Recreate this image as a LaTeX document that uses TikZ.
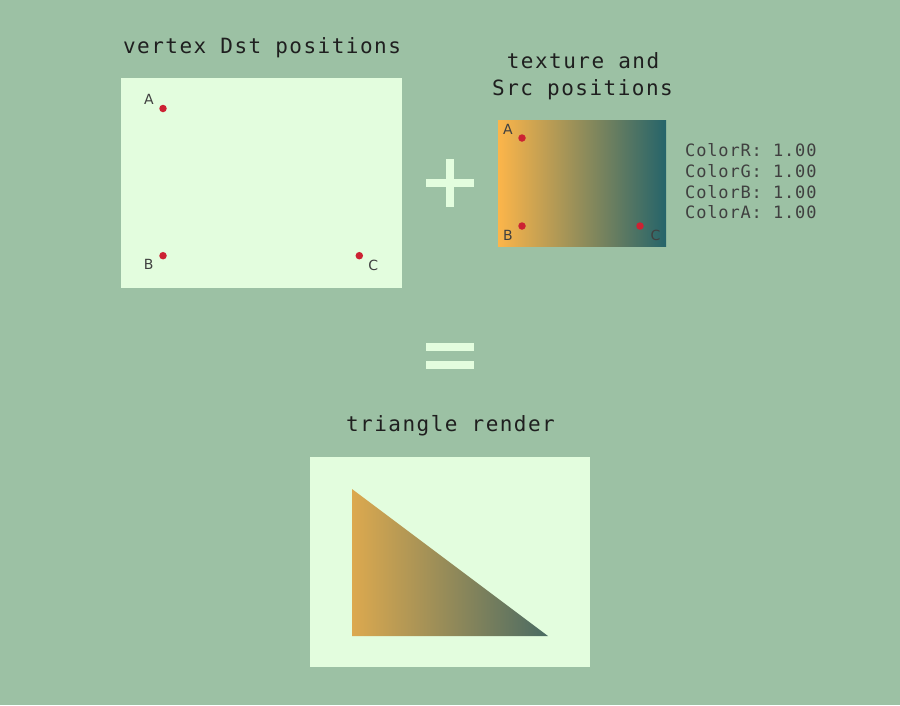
\documentclass[tikz,border=0pt]{standalone}
\usepackage{fontspec}
\setmonofont{DejaVu Sans Mono}
\newfontfamily\titlefont[LetterSpace=7]{DejaVu Sans Mono}
\newfontfamily\infofont[LetterSpace=5]{DejaVu Sans Mono}
\newfontfamily\markfont{DejaVu Sans}
\usetikzlibrary{positioning}
\definecolor{bggreen}{HTML}{9CC1A4}
\definecolor{panelgreen}{HTML}{E3FDDE}
\definecolor{texorange}{HTML}{FCB54A}
\definecolor{texteal}{HTML}{25646A}
\definecolor{triorange}{HTML}{DCA94F}
\definecolor{triteal}{HTML}{4A6B63}
\definecolor{dotred}{HTML}{CC2233}
\definecolor{titlegray}{HTML}{1F1F1F}
\definecolor{infogray}{HTML}{404040}

\begin{document}
\begin{tikzpicture}[x=1pt, y=-1pt, panel/.style={fill=panelgreen, draw=none, inner sep=0pt, minimum width=281pt, minimum height=210pt}, texbox/.style={left color=texorange, right color=texteal, draw=none, inner sep=0pt, minimum width=168pt, minimum height=126pt}, dot/.style={circle, fill=dotred, draw=none, inner sep=0pt, minimum size=7.5pt}, title/.style={text=titlegray, font=\titlefont\fontsize{21}{25}\selectfont, inner sep=0pt, anchor=base}, info/.style={text=infogray, font=\infofont\fontsize{17}{20}\selectfont, inner sep=0pt, anchor=base west}, vlabel/.style={text=infogray, font=\markfont\fontsize{14}{16}\selectfont, inner sep=0pt, anchor=base}]
    
    \useasboundingbox[fill=bggreen] (0,0) rectangle (900,705);
    
    %Nodes
    \node[title](dst_title) at (262,53.5){vertex Dst positions};
    \node[panel](dst) at (261.5,183){};
    \node[dot](dst_a) at (163,108.5){};
    \node[dot](dst_b) at (163,255.7){};
    \node[dot](dst_c) at (359.3,255.7){};
    \node[vlabel](dst_a_text) at (148.8,104){A};
    \node[vlabel](dst_b_text) at (148.8,269.5){B};
    \node[vlabel](dst_c_text) at (373.3,270){C};
    
    \node[title](tex_title) at (583,68.3){texture and};
    \node[title](tex_title2) at (582.5,95){Src positions};
    \node[texbox](tex) at (582,183){};
    \node[dot](tex_a) at (522,138){};
    \node[dot](tex_b) at (522,226){};
    \node[dot](tex_c) at (640,226){};
    \node[vlabel](tex_a_text) at (508,134){A};
    \node[vlabel](tex_b_text) at (508,240){B};
    \node[vlabel](tex_c_text) at (655.5,240){C};
    \foreach \ch [count=\i] in {R,G,B,A}
        \node[info](color_\ch) at (685,136+20.7*\i){Color\ch: 1.00};
    
    \node[title](render_title) at (450.5,431.7){triangle render};
    \node[panel, minimum width=280pt](render) at (450,562){};
    
    %Shapes
    \fill[panelgreen] (426,179) rectangle (474,187);
    \fill[panelgreen] (446,159) rectangle (454,207);
    \fill[panelgreen] (426,343) rectangle (474,351);
    \fill[panelgreen] (426,361) rectangle (474,369);
    \shade[left color=triorange, right color=triteal] (352,489) -- (352,636) -- (548,636) -- cycle;
    
\end{tikzpicture}
\end{document}
